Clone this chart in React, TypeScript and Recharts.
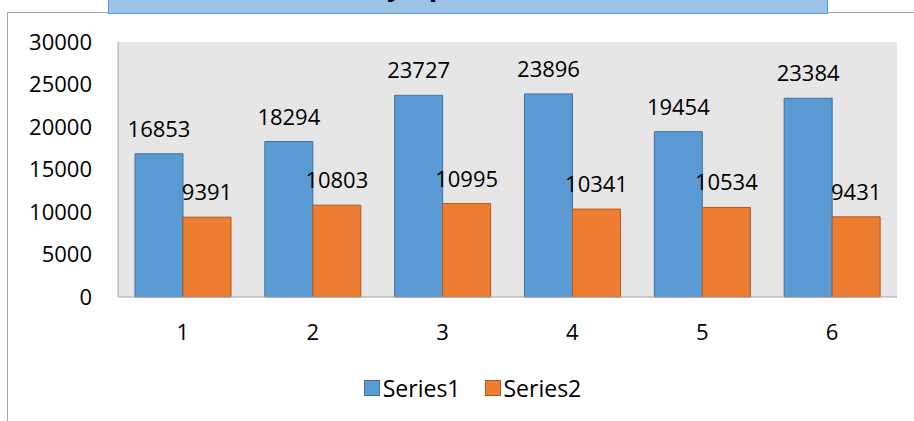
import React from "react";
import { Bar, BarChart, CartesianGrid, LabelList, Legend, XAxis, YAxis } from "recharts";

const categories = ["1", "2", "3", "4", "5", "6"];
const series1 = [16853, 18294, 23727, 23896, 19454, 23384];
const series2 = [9391, 10803, 10995, 10341, 10534, 9431];
const yTicks = [0, 5000, 10000, 15000, 20000, 25000, 30000];

const data = categories.map((name, i) => ({
  name,
  Series1: series1[i],
  Series2: series2[i]
}));

const FONT = "'Open Sans', sans-serif";
const BLUE = "#5b9bd5";
const ORANGE = "#ed7d31";

function LegendContent() {
  const items = [
    { label: "Series1", color: BLUE, border: "#41719c" },
    { label: "Series2", color: ORANGE, border: "#ae5a21" }
  ];
  return (
    <div
      style={{
        display: "flex",
        justifyContent: "center",
        gap: 24,
        paddingTop: 9,
        paddingLeft: 48,
        fontFamily: FONT,
        fontSize: 23
      }}
    >
      {items.map((it) => (
        <div key={it.label} style={{ display: "flex", alignItems: "center" }}>
          <span
            style={{
              width: 14,
              height: 14,
              background: it.color,
              border: `1px solid ${it.border}`,
              marginRight: 3,
              display: "inline-block"
            }}
          />
          <span style={{ color: "#000" }}>{it.label}</span>
        </div>
      ))}
    </div>
  );
}

export default function App() {
  return (
    <div style={{ position: "absolute", left: 0, top: 0, width: 914, height: 421, overflow: "hidden", background: "#fff" }}>
      {/* chart area frame */}
      <div
        style={{
          position: "absolute",
          left: 7,
          top: 12,
          width: 1000,
          height: 500,
          borderLeft: "1px solid #a6a6a6",
          borderTop: "1px solid #a6a6a6"
        }}
      />
      <div style={{ position: "absolute", left: 0, top: 0 }}>
        <BarChart
          width={914}
          height={421}
          data={data}
          margin={{ top: 42, right: 17, bottom: 0, left: 0 }}
          barCategoryGap={17}
          barGap={0}
        >
          <CartesianGrid fill="#e7e6e6" stroke="none" horizontal={false} vertical={false} />
          <XAxis
            dataKey="name"
            axisLine={{ stroke: "#a6a6a6" }}
            tickLine={false}
            tickMargin={21}
            height={66}
            tick={{ fill: "#000", fontSize: 22, fontFamily: FONT }}
          />
          <YAxis
            width={118}
            domain={[0, 30000]}
            ticks={yTicks}
            axisLine={{ stroke: "#a6a6a6" }}
            tickLine={false}
            tickMargin={20}
            tick={{ fill: "#000", fontSize: 22, fontFamily: FONT }}
          />
          <Legend verticalAlign="bottom" height={58} content={<LegendContent />} />
          <Bar dataKey="Series1" fill={BLUE} stroke="#41719c" strokeWidth={1} isAnimationActive={false}>
            <LabelList dataKey="Series1" position="top" offset={17} fill="#000" fontSize={22} fontFamily={FONT} />
          </Bar>
          <Bar dataKey="Series2" fill={ORANGE} stroke="#ae5a21" strokeWidth={1} isAnimationActive={false}>
            <LabelList dataKey="Series2" position="top" offset={17} fill="#000" fontSize={22} fontFamily={FONT} />
          </Bar>
        </BarChart>
      </div>
      {/* title box, mostly cut off at the top */}
      <div
        style={{
          position: "absolute",
          left: 108,
          top: 0,
          width: 720,
          height: 14,
          boxSizing: "border-box",
          background: "#9dc3e6",
          borderBottom: "1px solid #5b9bd5",
          borderRight: "1px solid #5b9bd5",
          borderLeft: "1px solid #5b9bd5",
          overflow: "hidden"
        }}
      >
        <span
          style={{
            position: "absolute",
            left: 192,
            top: -30,
            fontFamily: FONT,
            fontWeight: 700,
            fontSize: 28,
            lineHeight: "28px",
            whiteSpace: "nowrap",
            color: "#000"
          }}
        >
          Weekly uptime
        </span>
      </div>
    </div>
  );
}
